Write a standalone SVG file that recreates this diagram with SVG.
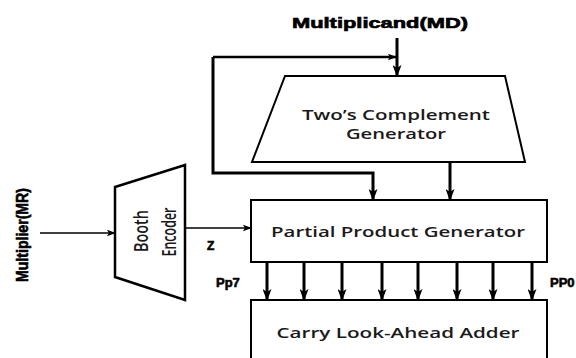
<svg xmlns="http://www.w3.org/2000/svg" width="576" height="358" viewBox="0 0 576 358">
<style>
.ln{stroke:#000;stroke-width:3;fill:none}
.thin{stroke:#000;stroke-width:1.5;fill:none}
.box{stroke:#000;stroke-width:2;fill:#fff}
.lbl{font-family:"Liberation Sans",Arial,sans-serif;font-weight:bold;fill:#000;stroke:#000;stroke-width:0.6}
.nt{font-family:"Open Sans","Liberation Sans",sans-serif;font-weight:600;fill:#1a1a1a;font-size:14px}
.bt{font-family:"Open Sans","Liberation Sans",sans-serif;font-weight:600;fill:#1a1a1a;font-size:20px}
</style>
<defs>
<marker id="ah" viewBox="0 0 12 9" refX="11" refY="4.5" markerWidth="12" markerHeight="9" orient="auto" markerUnits="userSpaceOnUse"><path d="M0,0 L12,4.5 L0,9 L3,4.5 Z" fill="#000"/></marker>
<marker id="ahs" viewBox="0 0 12 9" refX="11" refY="4.5" markerWidth="9" markerHeight="7" orient="auto" markerUnits="userSpaceOnUse"><path d="M0,0 L12,4.5 L0,9 L3,4.5 Z" fill="#000"/></marker>
</defs>
<rect width="576" height="358" fill="#fff"/>
<g id="connectors">
<path class="ln" d="M397,38 V76" marker-end="url(#ah)"/>
<path class="ln" d="M213,57 H396" marker-end="url(#ahs)" style="stroke-width:2.5"/>
<path class="ln" d="M213,57 V173 H373 V200" marker-end="url(#ah)"/>
<path class="ln" d="M450,162 V200" marker-end="url(#ah)"/>
<path class="thin" d="M40,233 H115" marker-end="url(#ahs)"/>
<path class="thin" d="M185,228 H251" marker-end="url(#ahs)"/>
<path class="ln" d="M267,262 V300" marker-end="url(#ah)"/>
<path class="ln" d="M304,262 V300" marker-end="url(#ah)"/>
<path class="ln" d="M342,262 V300" marker-end="url(#ah)"/>
<path class="ln" d="M382,262 V300" marker-end="url(#ah)"/>
<path class="ln" d="M418,262 V300" marker-end="url(#ah)"/>
<path class="ln" d="M457,262 V300" marker-end="url(#ah)"/>
<path class="ln" d="M493,262 V300" marker-end="url(#ah)"/>
<path class="ln" d="M532,262 V300" marker-end="url(#ah)"/>
</g>
<g id="twos-complement">
<path class="box" d="M285,76 H505 L525,162 H252 Z"/>
<text class="nt" x="396" y="120" text-anchor="middle" textLength="188" lengthAdjust="spacingAndGlyphs">Two’s Complement</text>
<text class="nt" x="396" y="139" text-anchor="middle" textLength="100" lengthAdjust="spacingAndGlyphs">Generator</text>
</g>
<g id="booth-encoder">
<path class="box" d="M115,187 L185,165 V300 L115,277 Z" style="stroke-width:2.5"/>
<text class="bt" transform="translate(148,231) rotate(-90)" text-anchor="middle" textLength="42" lengthAdjust="spacingAndGlyphs">Booth</text>
<text class="bt" transform="translate(176,232) rotate(-90)" text-anchor="middle" textLength="49" lengthAdjust="spacingAndGlyphs">Encoder</text>
</g>
<g id="ppg">
<rect class="box" x="251" y="200" width="296" height="62"/>
<text class="nt" x="398" y="237" text-anchor="middle" textLength="254" lengthAdjust="spacingAndGlyphs">Partial Product Generator</text>
</g>
<g id="cla">
<path class="box" d="M251,362 V300 H547 V362"/>
<text class="nt" x="398" y="338" text-anchor="middle" textLength="243" lengthAdjust="spacingAndGlyphs">Carry Look-Ahead Adder</text>
</g>
<g id="labels">
<text class="lbl" x="380" y="28" text-anchor="middle" font-size="14" textLength="176" lengthAdjust="spacingAndGlyphs">Multiplicand(MD)</text>
<text class="lbl" transform="translate(28,235) rotate(-90)" text-anchor="middle" font-size="16" textLength="94" lengthAdjust="spacingAndGlyphs">Multiplier(MR)</text>
<text class="lbl" x="207" y="250" font-size="12">Z</text>
<text class="lbl" x="216" y="287" font-size="13">Pp7</text>
<text class="lbl" x="550" y="287" font-size="13">PP0</text>
</g>
</svg>
